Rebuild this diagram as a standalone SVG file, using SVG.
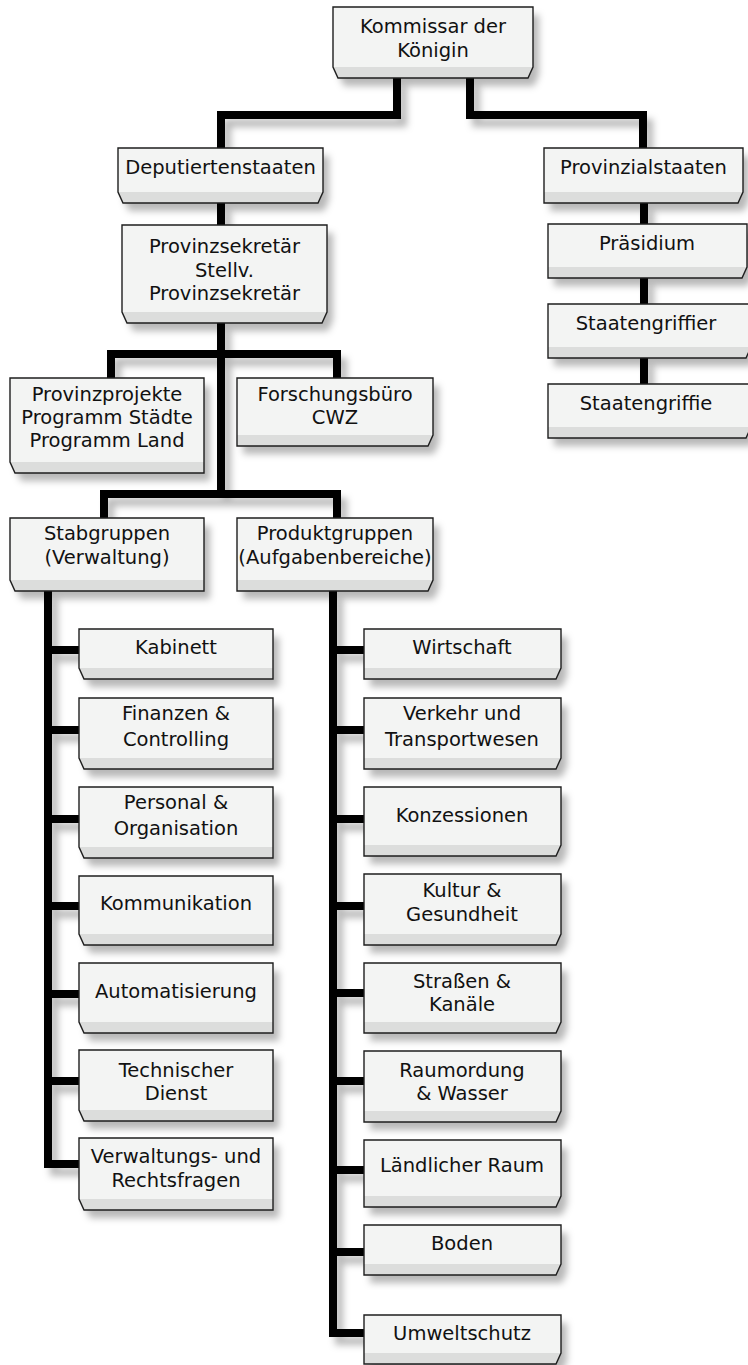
<svg xmlns="http://www.w3.org/2000/svg" width="748" height="1365" viewBox="0 0 748 1365">
<style>
.box{fill:#f3f4f3;stroke:none}
.band{fill:#dcdddc;stroke:none}
.outline{fill:none;stroke:#1e1e1e;stroke-width:1.4;stroke-linejoin:miter}
.sh{filter:url(#shadow)}
.con{fill:none;stroke:#000;stroke-width:8;stroke-linejoin:miter;stroke-linecap:butt}
text{font-family:"DejaVu Sans","Liberation Sans",sans-serif;font-size:19.5px;fill:#111;text-anchor:middle}
</style>
<defs>
<filter id="shadow" x="-10%" y="-10%" width="130%" height="140%">
<feDropShadow dx="6" dy="8" stdDeviation="3.5" flood-color="#000" flood-opacity="0.28"/>
</filter>
</defs>
<rect width="748" height="1365" fill="#fff"/>

<g id="connectors" class="sh">
<path class="con" d="M397,78 V115 H221 V148"/>
<path class="con" d="M470,78 V115 H643 V148"/>
<path class="con" d="M221,203 V225"/>
<path class="con" d="M644,203 V224 M644,278 V304 M644,358 V384"/>
<path class="con" d="M221,323 V494"/>
<path class="con" d="M111,378 V354 H337 V378"/>
<path class="con" d="M104,518 V494 H337 V518"/>
<path class="con" d="M48,591 V1164 H79 M48,650 H79 M48,730 H79 M48,819 H79 M48,906 H79 M48,994 H79 M48,1081 H79"/>
<path class="con" d="M333,591 V1333 H364 M333,650 H364 M333,730 H364 M333,819 H364 M333,906 H364 M333,993 H364 M333,1081 H364 M333,1170 H364 M333,1252 H364"/>
</g>

<g id="n_kommissar">
<polygon class="box sh" points="333,7 533,7 533,67 528,78 338,78 333,67"/>
<polygon class="band" points="333,67 533,67 528,78 338,78"/>
<polygon class="outline" points="333,7 533,7 533,67 528,78 338,78 333,67"/>
<text x="433" y="33">Kommissar der</text><text x="433" y="57">Königin</text>
</g>

<g id="n_deputierten">
<polygon class="box sh" points="118,148 323,148 323,192 318,203 123,203 118,192"/>
<polygon class="band" points="118,192 323,192 318,203 123,203"/>
<polygon class="outline" points="118,148 323,148 323,192 318,203 123,203 118,192"/>
<text x="220.5" y="174">Deputiertenstaaten</text>
</g>

<g id="n_provinzial">
<polygon class="box sh" points="544,148 743,148 743,192 738,203 544,203"/>
<polygon class="band" points="544,192 743,192 738,203 544,203"/>
<polygon class="outline" points="544,148 743,148 743,192 738,203 544,203"/>
<text x="643.5" y="174">Provinzialstaaten</text>
</g>

<g id="n_praesidium">
<polygon class="box sh" points="548,224 747,224 747,267 742,278 548,278"/>
<polygon class="band" points="548,267 747,267 742,278 548,278"/>
<polygon class="outline" points="548,224 747,224 747,267 742,278 548,278"/>
<text x="647" y="250">Präsidium</text>
</g>

<g id="n_griffier">
<polygon class="box sh" points="548,304 751,304 751,347 746,358 548,358"/>
<polygon class="band" points="548,347 751,347 746,358 548,358"/>
<polygon class="outline" points="548,304 751,304 751,347 746,358 548,358"/>
<text x="646" y="330">Staatengriffier</text>
</g>

<g id="n_griffie">
<polygon class="box sh" points="548,384 751,384 751,427 746,438 548,438"/>
<polygon class="band" points="548,427 751,427 746,438 548,438"/>
<polygon class="outline" points="548,384 751,384 751,427 746,438 548,438"/>
<text x="646" y="410">Staatengriffie</text>
</g>

<g id="n_sekretaer">
<polygon class="box sh" points="122,225 327,225 327,312 322,323 127,323 122,312"/>
<polygon class="band" points="122,312 327,312 322,323 127,323"/>
<polygon class="outline" points="122,225 327,225 327,312 322,323 127,323 122,312"/>
<text x="224.5" y="253">Provinzsekretär</text><text x="224.5" y="277">Stellv.</text><text x="224.5" y="300">Provinzsekretär</text>
</g>

<g id="n_projekte">
<polygon class="box sh" points="10,378 204,378 204,473 15,473 10,462"/>
<polygon class="band" points="10,462 204,462 204,473 15,473"/>
<polygon class="outline" points="10,378 204,378 204,473 15,473 10,462"/>
<text x="107" y="401">Provinzprojekte</text><text x="107" y="424">Programm Städte</text><text x="107" y="447">Programm Land</text>
</g>

<g id="n_forschung">
<polygon class="box sh" points="237,378 433,378 433,435 428,446 237,446"/>
<polygon class="band" points="237,435 433,435 428,446 237,446"/>
<polygon class="outline" points="237,378 433,378 433,435 428,446 237,446"/>
<text x="335" y="401">Forschungsbüro</text><text x="335" y="424">CWZ</text>
</g>

<g id="n_stab">
<polygon class="box sh" points="10,518 204,518 204,591 15,591 10,580"/>
<polygon class="band" points="10,580 204,580 204,591 15,591"/>
<polygon class="outline" points="10,518 204,518 204,591 15,591 10,580"/>
<text x="107" y="540">Stabgruppen</text><text x="107" y="564">(Verwaltung)</text>
</g>

<g id="n_produkt">
<polygon class="box sh" points="237,518 433,518 433,580 428,591 237,591"/>
<polygon class="band" points="237,580 433,580 428,591 237,591"/>
<polygon class="outline" points="237,518 433,518 433,580 428,591 237,591"/>
<text x="335" y="540">Produktgruppen</text><text x="335" y="564">(Aufgabenbereiche)</text>
</g>

<g id="n_kabinett">
<polygon class="box sh" points="79,629 273,629 273,679 84,679 79,668"/>
<polygon class="band" points="79,668 273,668 273,679 84,679"/>
<polygon class="outline" points="79,629 273,629 273,679 84,679 79,668"/>
<text x="176" y="654">Kabinett</text>
</g>

<g id="n_finanzen">
<polygon class="box sh" points="79,698 273,698 273,769 84,769 79,758"/>
<polygon class="band" points="79,758 273,758 273,769 84,769"/>
<polygon class="outline" points="79,698 273,698 273,769 84,769 79,758"/>
<text x="176" y="720">Finanzen &amp;</text><text x="176" y="746">Controlling</text>
</g>

<g id="n_personal">
<polygon class="box sh" points="79,787 273,787 273,858 84,858 79,847"/>
<polygon class="band" points="79,847 273,847 273,858 84,858"/>
<polygon class="outline" points="79,787 273,787 273,858 84,858 79,847"/>
<text x="176" y="809">Personal &amp;</text><text x="176" y="835">Organisation</text>
</g>

<g id="n_kommunikation">
<polygon class="box sh" points="79,876 273,876 273,945 84,945 79,934"/>
<polygon class="band" points="79,934 273,934 273,945 84,945"/>
<polygon class="outline" points="79,876 273,876 273,945 84,945 79,934"/>
<text x="176" y="910">Kommunikation</text>
</g>

<g id="n_automatisierung">
<polygon class="box sh" points="79,963 273,963 273,1033 84,1033 79,1022"/>
<polygon class="band" points="79,1022 273,1022 273,1033 84,1033"/>
<polygon class="outline" points="79,963 273,963 273,1033 84,1033 79,1022"/>
<text x="176" y="998">Automatisierung</text>
</g>

<g id="n_technisch">
<polygon class="box sh" points="79,1050 273,1050 273,1121 84,1121 79,1110"/>
<polygon class="band" points="79,1110 273,1110 273,1121 84,1121"/>
<polygon class="outline" points="79,1050 273,1050 273,1121 84,1121 79,1110"/>
<text x="176" y="1077">Technischer</text><text x="176" y="1100">Dienst</text>
</g>

<g id="n_verwaltung">
<polygon class="box sh" points="79,1138 273,1138 273,1210 84,1210 79,1199"/>
<polygon class="band" points="79,1199 273,1199 273,1210 84,1210"/>
<polygon class="outline" points="79,1138 273,1138 273,1210 84,1210 79,1199"/>
<text x="176" y="1163">Verwaltungs- und</text><text x="176" y="1187">Rechtsfragen</text>
</g>

<g id="n_wirtschaft">
<polygon class="box sh" points="364,629 561,629 561,668 556,679 364,679"/>
<polygon class="band" points="364,668 561,668 556,679 364,679"/>
<polygon class="outline" points="364,629 561,629 561,668 556,679 364,679"/>
<text x="462" y="654">Wirtschaft</text>
</g>

<g id="n_verkehr">
<polygon class="box sh" points="364,698 561,698 561,758 556,769 364,769"/>
<polygon class="band" points="364,758 561,758 556,769 364,769"/>
<polygon class="outline" points="364,698 561,698 561,758 556,769 364,769"/>
<text x="462" y="720">Verkehr und</text><text x="462" y="746">Transportwesen</text>
</g>

<g id="n_konzessionen">
<polygon class="box sh" points="364,787 561,787 561,845 556,856 364,856"/>
<polygon class="band" points="364,845 561,845 556,856 364,856"/>
<polygon class="outline" points="364,787 561,787 561,845 556,856 364,856"/>
<text x="462" y="822">Konzessionen</text>
</g>

<g id="n_kultur">
<polygon class="box sh" points="364,874 561,874 561,934 556,945 364,945"/>
<polygon class="band" points="364,934 561,934 556,945 364,945"/>
<polygon class="outline" points="364,874 561,874 561,934 556,945 364,945"/>
<text x="462" y="897">Kultur &amp;</text><text x="462" y="921">Gesundheit</text>
</g>

<g id="n_strassen">
<polygon class="box sh" points="364,963 561,963 561,1022 556,1033 364,1033"/>
<polygon class="band" points="364,1022 561,1022 556,1033 364,1033"/>
<polygon class="outline" points="364,963 561,963 561,1022 556,1033 364,1033"/>
<text x="462" y="988">Straßen &amp;</text><text x="462" y="1011">Kanäle</text>
</g>

<g id="n_raum">
<polygon class="box sh" points="364,1051 561,1051 561,1111 556,1122 364,1122"/>
<polygon class="band" points="364,1111 561,1111 556,1122 364,1122"/>
<polygon class="outline" points="364,1051 561,1051 561,1111 556,1122 364,1122"/>
<text x="462" y="1077">Raumordung</text><text x="462" y="1100">&amp; Wasser</text>
</g>

<g id="n_laendlich">
<polygon class="box sh" points="364,1140 561,1140 561,1196 556,1207 364,1207"/>
<polygon class="band" points="364,1196 561,1196 556,1207 364,1207"/>
<polygon class="outline" points="364,1140 561,1140 561,1196 556,1207 364,1207"/>
<text x="462" y="1172">Ländlicher Raum</text>
</g>

<g id="n_boden">
<polygon class="box sh" points="364,1225 561,1225 561,1264 556,1275 364,1275"/>
<polygon class="band" points="364,1264 561,1264 556,1275 364,1275"/>
<polygon class="outline" points="364,1225 561,1225 561,1264 556,1275 364,1275"/>
<text x="462" y="1250">Boden</text>
</g>

<g id="n_umwelt">
<polygon class="box sh" points="364,1315 561,1315 561,1353 556,1364 364,1364"/>
<polygon class="band" points="364,1353 561,1353 556,1364 364,1364"/>
<polygon class="outline" points="364,1315 561,1315 561,1353 556,1364 364,1364"/>
<text x="462" y="1340">Umweltschutz</text>
</g>
</svg>
